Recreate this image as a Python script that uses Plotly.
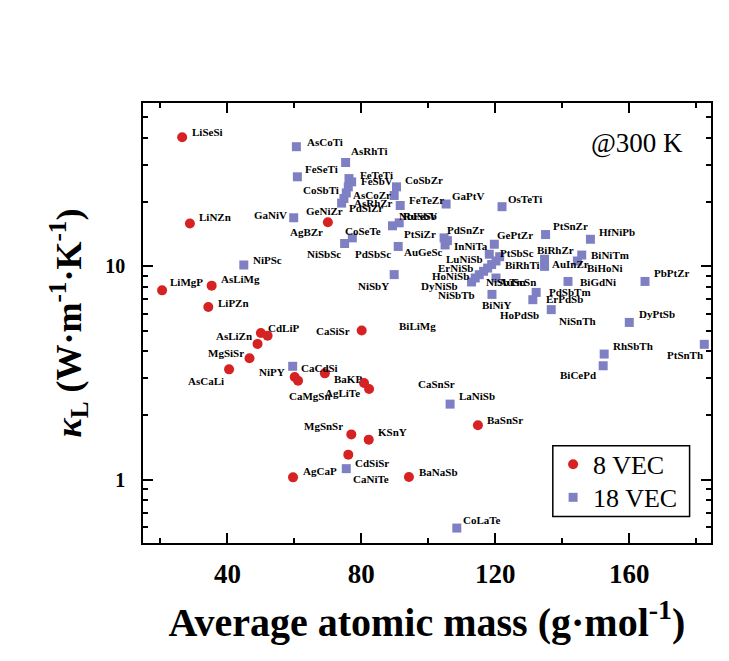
import math
import plotly.graph_objects as go

# ---------------- data ----------------
names8 = ["LiSeSi", "LiNZn", "LiMgP", "AsLiMg", "LiPZn", "CdLiP", "CaSiSr", "AsLiZn",
          "MgSiSr", "AsCaLi", "CaCdSi", "CaMgSn", "BaKP", "AgLiTe", "CaSnSr", "BiLiMg",
          "MgSnSr", "KSnY", "CdSiSr", "AgCaP", "BaNaSb", "BaSnSr", "GeNiZr"]
mass8 = [26.5, 28.8, 20.5, 35.3, 34.3, 50.0, 52.0, 49.0,
         46.6, 40.5, 60.1, 61.1, 69.1, 80.8, 82.3, 80.1,
         77.0, 82.2, 76.1, 59.6, 94.2, 114.8, 70.0]
kappa8 = [40.3, 15.9, 7.72, 8.12, 6.45, 4.87, 4.73, 4.33,
          3.71, 3.29, 3.03, 2.91, 3.15, 2.84, 2.66, 5.0,
          1.63, 1.54, 1.31, 1.025, 1.03, 1.80, 16.1]

names18 = ["AsCoTi", "AsRhTi", "FeSeTi", "FeTeTi", "FeSbV", "CoSbTi", "AsCoZr", "AsRhZr",
           "PdSiZr", "CoSbZr", "s11", "FeTeZr", "GaPtV", "OsTeTi", "GaNiV", "NiSbSc",
           "CoSeTe", "NbFeSb", "RuSbV", "PdSbSc", "PdSnZr", "s22", "PtSiZr", "GePtZr",
           "PtSnZr", "HfNiPb", "InNiTa", "PtSbSc", "LuNiSb", "BiRhTi", "ErNiSb", "s32",
           "HoNiSb", "NiSbTb", "DyNiSb", "NiSbTm", "BiNiY", "PdSbTm", "ErPdSb", "HoPdSb",
           "BiRhZr", "AuInZr", "BiNiTm", "BiHoNi", "BiGdNi", "PbPtZr", "DyPtSb", "PtSnTh",
           "RhSbTh", "BiCePd", "LaNiSb", "NiPY", "NiPSc", "NiSbY", "CaNiTe", "CoLaTe"]
mass18 = [60.6, 75.3, 60.9, 76.3, 77.1, 76.1, 75.5, 74.8,
          74.1, 90.5, 89.8, 91.6, 105.3, 122.0, 59.8, 75.0,
          77.3, 89.3, 91.3, 91.0, 104.7, 105.7, 105.0, 119.7,
          135.0, 148.4, 118.2, 121.3, 120.2, 118.9, 117.7, 116.5,
          115.2, 114.0, 112.9, 120.2, 119.0, 132.2, 131.2, 136.7,
          134.7, 134.7, 145.8, 144.5, 141.7, 164.7, 160.0, 182.4,
          152.5, 152.2, 106.5, 59.5, 44.9, 89.8, 75.5, 108.5]
kappa18 = [36.4, 30.7, 26.3, 25.8, 24.9, 23.6, 22.1, 20.8,
           19.8, 23.6, 21.5, 19.3, 19.6, 19.05, 16.9, 12.8,
           13.6, 15.5, 16.0, 12.4, 13.6, 13.2, 12.6, 12.7,
           14.1, 13.4, 11.4, 11.1, 10.6, 10.2, 9.82, 9.48,
           9.14, 8.82, 8.45, 8.82, 7.39, 7.55, 6.98, 6.27,
           10.8, 10.0, 11.3, 10.6, 8.5, 8.5, 5.46, 4.31,
           3.88, 3.42, 2.26, 3.40, 10.15, 9.15, 1.126, 0.593]

x_ticks = [40, 80, 120, 160]
x_minor = [20, 60, 100, 140, 180]
y_ticks = [1, 10]
y_tick_text = ["1", "10"]
y_minor = [0.6, 0.7, 0.8, 0.9, 2, 3, 4, 5, 6, 7, 8, 9, 20, 30, 40, 50]

# label placement: (text, point name, anchor side, x offset px, y offset px downward)
labels = [
    ("LiSeSi", "LiSeSi", "left", 8, -5), ("LiNZn", "LiNZn", "left", 7, -6),
    ("LiMgP", "LiMgP", "left", 6, -8), ("AsLiMg", "AsLiMg", "left", 7, -7),
    ("LiPZn", "LiPZn", "left", 8, -4), ("CdLiP", "CdLiP", "left", 5, -5),
    ("CaSiSr", "CaSiSr", "left", 46, -5), ("AsLiZn", "AsLiZn", "right", -4, -8),
    ("MgSiSr", "MgSiSr", "right", -4, -5), ("AsCaLi", "AsCaLi", "right", -3, 12),
    ("CaCdSi", "CaCdSi", "left", 4, -9), ("CaMgSn", "CaMgSn", "left", -11, 15),
    ("BaKP", "BaKP", "left", 7, 6), ("AgLiTe", "AgLiTe", "right", -2, 10),
    ("CaSnSr", "CaSnSr", "left", 47, -5), ("BiLiMg", "BiLiMg", "left", 35, -5),
    ("MgSnSr", "MgSnSr", "right", -6, -8), ("KSnY", "KSnY", "left", 7, -8),
    ("CdSiSr", "CdSiSr", "left", 5, 8), ("AgCaP", "AgCaP", "left", 8, -6),
    ("BaNaSb", "BaNaSb", "left", 8, -5), ("BaSnSr", "BaSnSr", "left", 7, -5),
    ("GeNiZr", "GeNiZr", "left", -24, -11), ("AgBZr", "GeNiZr", "right", -3, 10),
    ("AsCoTi", "AsCoTi", "left", 9, -5), ("AsRhTi", "AsRhTi", "left", 3, -11),
    ("FeSeTi", "FeSeTi", "left", 6, -8), ("FeTeTi", "FeTeTi", "left", 9, -4),
    ("FeSbV", "FeSbV", "left", 7, -1), ("CoSbTi", "CoSbTi", "right", -7, 3),
    ("AsCoZr", "AsCoZr", "left", 5, 2), ("AsRhZr", "AsRhZr", "left", 8, 4),
    ("PdSiZr", "PdSiZr", "left", 5, 5), ("CoSbZr", "CoSbZr", "left", 6, -7),
    ("FeTeZr", "FeTeZr", "left", 7, -5), ("GaPtV", "GaPtV", "left", 4, -8),
    ("OsTeTi", "OsTeTi", "left", 4, -8), ("GaNiV", "GaNiV", "right", -5, -3),
    ("NiSbSc", "NiSbSc", "right", -2, 10), ("CoSeTe", "CoSeTe", "left", -9, -7),
    ("NbFeSb", "RuSbV", "left", -2, -7), ("RuSbV", "RuSbV", "left", 2, -7),
    ("PdSbSc", "PdSbSc", "right", -5, 8), ("AuGeSc", "PdSbSc", "left", 4, 6),
    ("PdSnZr", "PdSnZr", "left", 1, -8), ("PtSiZr", "PtSiZr", "right", -7, -11),
    ("GePtZr", "GePtZr", "left", 1, -9), ("PtSnZr", "PtSnZr", "left", 5, -9),
    ("HfNiPb", "HfNiPb", "left", 7, -7), ("InNiTa", "InNiTa", "right", 1, -8),
    ("PtSbSc", "PtSbSc", "left", -2, -4), ("LuNiSb", "LuNiSb", "right", -11, -2),
    ("BiRhTi", "BiRhTi", "left", 11, 0), ("ErNiSb", "ErNiSb", "right", -13, 0),
    ("HoNiSb", "HoNiSb", "right", -8, 1), ("NiSbTb", "NiSbTb", "right", 2, 17),
    ("DyNiSb", "DyNiSb", "right", -12, 4), ("NiSbTm", "NiSbTm", "left", -12, 4),
    ("AuScSn", "NiSbTm", "left", 1, 4), ("BiNiY", "BiNiY", "left", -12, 11),
    ("PdSbTm", "PdSbTm", "left", 11, 0), ("ErPdSb", "ErPdSb", "left", 11, -1),
    ("HoPdSb", "HoPdSb", "right", -10, 5), ("NiSnTh", "HoPdSb", "left", 6, 11),
    ("BiRhZr", "BiRhZr", "left", -10, -9), ("AuInZr", "AuInZr", "left", 5, -2),
    ("BiNiTm", "BiNiTm", "left", 7, 0), ("BiHoNi", "BiHoNi", "left", 8, 7),
    ("BiGdNi", "BiGdNi", "left", 10, 1), ("PbPtZr", "PbPtZr", "left", 7, -8),
    ("DyPtSb", "DyPtSb", "left", 8, -8), ("RhSbTh", "RhSbTh", "left", 7, -8),
    ("BiCePd", "BiCePd", "right", -5, 9), ("PtSnTh", "PtSnTh", "right", 1, 11),
    ("LaNiSb", "LaNiSb", "left", 7, -8), ("NiPY", "NiPY", "right", -6, 6),
    ("NiPSc", "NiPSc", "left", 7, -5), ("NiSbY", "NiSbY", "right", -3, 11),
    ("CaNiTe", "CaNiTe", "left", 5, 10), ("CoLaTe", "CoLaTe", "left", 4, -8),
]

# ---------------- figure ----------------
FONT = "Liberation Serif"
RED = "#D62222"
BLUE = "#7F80C4"

fig = go.Figure()
fig.add_trace(go.Scatter(x=mass18, y=kappa18, mode="markers", name="18 VEC",
                         text=names18, hoverinfo="text", legend="legend2",
                         marker=dict(symbol="square", size=9, color=BLUE)))
fig.add_trace(go.Scatter(x=mass8, y=kappa8, mode="markers", name="8 VEC",
                         text=names8, hoverinfo="text", legend="legend",
                         marker=dict(symbol="circle", size=10, color=RED)))

lookup = {}
for n, xv, yv in zip(names8, mass8, kappa8):
    lookup[n] = (xv, yv)
for n, xv, yv in zip(names18, mass18, kappa18):
    lookup[n] = (xv, yv)

annotations = []
for text, pname, side, dx, dy in labels:
    xv, yv = lookup[pname]
    annotations.append(dict(x=xv, y=math.log10(yv), xref="x", yref="y",
                            text=text, showarrow=False, xanchor=side, yanchor="middle",
                            xshift=dx, yshift=-dy,
                            font=dict(family=FONT, size=11, color="black", weight="bold")))

annotations.append(dict(x=0.8696, y=0.9098, xref="paper", yref="paper", text="@300 K",
                        showarrow=False, xanchor="center", yanchor="middle",
                        font=dict(family=FONT, size=27, color="black")))

legend_style = dict(xanchor="left", yanchor="top", bgcolor="rgba(0,0,0,0)", borderwidth=0,
                    font=dict(family=FONT, size=26, color="black"), itemsizing="trace")

# page body adds an 8 px margin, so the figure is sized to fit inside the window
fig.update_layout(
    width=713, height=645,
    margin=dict(l=135, r=10, t=95, b=110, autoexpand=False),
    paper_bgcolor="white", plot_bgcolor="white",
    showlegend=True,
    legend=dict(x=0.722, y=0.232, **legend_style),
    legend2=dict(x=0.722, y=0.157, **legend_style),
    shapes=[dict(type="rect", xref="paper", yref="paper",
                 x0=0.7215, x1=0.9623, y0=0.0605, y1=0.2211,
                 line=dict(color="black", width=1.5), fillcolor="white", layer="above")],
    annotations=annotations,
)

fig.update_xaxes(
    range=[14.8, 184.4], tickmode="array", tickvals=x_ticks, automargin=False,
    ticks="inside", ticklen=10, tickwidth=1.5, tickcolor="black",
    minor=dict(tickmode="array", tickvals=x_minor, ticks="inside", ticklen=5,
               tickwidth=1.5, tickcolor="black"),
    showline=True, linewidth=1.5, linecolor="black", mirror="ticks",
    showgrid=False, zeroline=False, ticklabelstandoff=6,
    tickfont=dict(family=FONT, size=27, color="black", weight="bold"),
    title=dict(text="Average atomic mass (g·mol<sup>-1</sup>)", standoff=20,
               font=dict(family=FONT, size=40, color="black", weight="bold")),
)
fig.update_yaxes(
    type="log", range=[-0.297, 1.766], tickmode="array", tickvals=y_ticks,
    ticktext=y_tick_text, automargin=False,
    ticks="inside", ticklen=10, tickwidth=1.5, tickcolor="black",
    minor=dict(tickmode="array", tickvals=y_minor, ticks="inside", ticklen=5,
               tickwidth=1.5, tickcolor="black"),
    showline=True, linewidth=1.5, linecolor="black", mirror="ticks",
    showgrid=False, zeroline=False, ticklabelstandoff=12,
    tickfont=dict(family=FONT, size=20, color="black", weight="bold"),
    title=dict(text="<i>κ</i><sub>L</sub> (W·m<sup>-1</sup>·K<sup>-1</sup>)", standoff=13,
               font=dict(family=FONT, size=36, color="black", weight="bold")),
)

fig.write_html("out.html")
